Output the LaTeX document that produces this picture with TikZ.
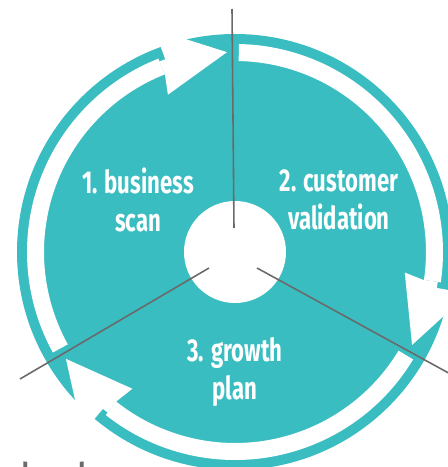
\documentclass[tikz,border=0pt]{standalone}
\usepackage{fontspec}
\usepackage{tikz}
\newfontfamily\stagefont[FakeStretch=0.7]{Fira Sans}
\newfontfamily\notefont{Fira Sans}
\definecolor{cycleteal}{HTML}{3ABDC1}
\definecolor{pointgray}{HTML}{6A6A6A}

\begin{document}
\begin{tikzpicture}
	[x=0.02cm,y=0.02cm,
	stage/.style={align=center,text=white,font=\stagefont\bfseries\fontsize{18}{21.6}\selectfont},
	pointer/.style={draw=pointgray,line width=0.9pt},
	gap/.style={fill=white}]
	\clip (-235,-215) rectangle (213,252);
	\fill[cycleteal] (0,0) circle (218);
	\foreach \t in {92.3,-27.7,-147.7}
	{
		\fill[gap] (\t-3.4:191) arc[start angle=\t-3.4,end angle=\t-100.7,radius=191] -- (\t-100.7:208) arc[start angle=\t-100.7,end angle=\t-3.4,radius=208] -- cycle;
		\fill[gap] (\t+19.3:190) -- (\t+20.8:171) -- (\t:200) -- (\t+10.5:218) -- (\t+10.5:221) arc[start angle=\t+10.5,end angle=\t+17.6,radius=221] -- (\t+17.6:205) -- (\t+19.3:205) -- cycle;
	}
	\fill[gap] (0,0) circle (51);
	\node[stage] (scan) at (-97,52) {1. business\\scan};
	\node[stage] (valid) at (104,52) {2. customer\\validation};
	\node[stage] (plan) at (0,-120) {3. growth\\plan};
	\coordinate (hubn) at (-1,24);
	\coordinate (outn) at (-3,243);
	\coordinate (hubw) at (-26,-16);
	\coordinate (outw) at (-215,-127);
	\coordinate (hube) at (22,-16);
	\coordinate (oute) at (230,-130);
	\draw[pointer] (hubn) -- (outn);
	\draw[pointer] (hubw) -- (outw);
	\draw[pointer] (hube) -- (oute);
	\node[text=pointgray,font=\notefont\fontsize{24}{28}\selectfont,anchor=base west,inner sep=0pt] (nextword) at (-229,-241) {deal};
\end{tikzpicture}
\end{document}
